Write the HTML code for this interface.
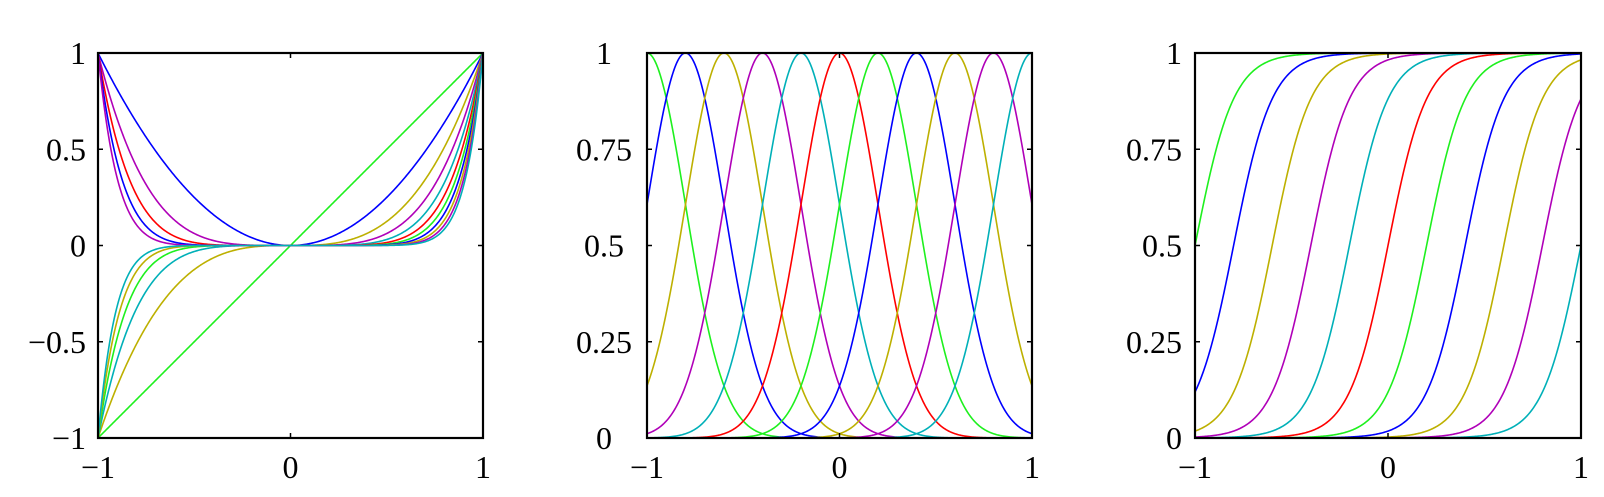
<!DOCTYPE html>
<html><head><meta charset="utf-8"><style>
html,body{margin:0;padding:0;background:#fff;}
svg{display:block;font-family:"Liberation Serif",serif;}
</style></head><body>
<svg id="chart" width="1604" height="497" viewBox="0 0 1604 497"></svg>
<script>
// Data
const colorCycle = ['#1ef01e','#0000ff','#bdb000','#b000b8','#00b0b8','#ff0000'];
const powers = [1,2,3,4,5,6,7,8,9,10,11];
const gaussCenters = [-1,-0.8,-0.6,-0.4,-0.2,0,0.2,0.4,0.6,0.8,1];
const gaussSigma = 0.2;
const sigmoidCenters = [-1,-0.8,-0.6,-0.4,-0.2,0,0.2,0.4,0.6,0.8,1];
const sigmoidSlope = 10;
const xTicks = [-1,0,1];
const xTickLabels = ['\u22121','0','1'];
const y1Ticks = [-1,-0.5,0,0.5,1];
const y1TickLabels = ['\u22121','\u22120.5','0','0.5','1'];
const y2Ticks = [0,0.25,0.5,0.75,1];
const y2TickLabels = ['0','0.25','0.5','0.75','1'];

const svg = document.getElementById('chart');
const NS = 'http://www.w3.org/2000/svg';
function mk(tag, attrs){const e=document.createElementNS(NS,tag);for(const k in attrs)e.setAttribute(k,attrs[k]);return e;}

const panels = [
  {name:'polynomial-panel', x0:98, x1:483, y0:53, y1:438, ymin:-1, ymax:1, yt:y1Ticks, yl:y1TickLabels, labAnchor:'end', labX:86,
   series: powers.map(p => ({name:'power-'+p, f:x=>Math.pow(x,p)}))},
  {name:'gaussian-panel', x0:647, x1:1032, y0:53, y1:438, ymin:0, ymax:1, yt:y2Ticks, yl:y2TickLabels, labAnchor:'middle', labX:604,
   series: gaussCenters.map(c => ({name:'gaussian-'+c, f:x=>Math.exp(-(x-c)*(x-c)/(2*gaussSigma*gaussSigma))}))},
  {name:'sigmoid-panel', x0:1195, x1:1581, y0:53, y1:438, ymin:0, ymax:1, yt:y2Ticks, yl:y2TickLabels, labAnchor:'end', labX:1182,
   series: sigmoidCenters.map(c => ({name:'sigmoid-'+c, f:x=>1/(1+Math.exp(-sigmoidSlope*(x-c)))}))}
];

panels.forEach(P => {
  const g = mk('g',{});
  
  
  svg.appendChild(g);
  const sx = v => P.x0 + (v+1)/2*(P.x1-P.x0);
  const sy = v => P.y1 - (v-P.ymin)/(P.ymax-P.ymin)*(P.y1-P.y0);
  P.series.forEach((s,i) => {
    let d='';
    for(let k=0;k<=400;k++){const x=-1+2*k/400;d+=(k?'L':'M')+sx(x).toFixed(2)+','+sy(s.f(x)).toFixed(2);}
    const path = mk('path',{d:d,fill:'none',stroke:colorCycle[i%colorCycle.length],'stroke-width':1.6});
    
    
    g.appendChild(path);
  });
  const box = mk('rect',{x:P.x0,y:P.y0,width:P.x1-P.x0,height:P.y1-P.y0,fill:'none',stroke:'#000','stroke-width':2.2});
  
  
  g.appendChild(box);
  xTicks.forEach((t,i) => {
    const X = sx(t);
    g.appendChild(mk('line',{x1:X,x2:X,y1:P.y1,y2:P.y1-5,stroke:'#000','stroke-width':1.5}));
    g.appendChild(mk('line',{x1:X,x2:X,y1:P.y0,y2:P.y0+5,stroke:'#000','stroke-width':1.5}));
    const tx = mk('text',{x:X,y:478,'text-anchor':'middle','font-size':32});
    tx.textContent = xTickLabels[i];
    
    
    g.appendChild(tx);
  });
  P.yt.forEach((t,i) => {
    const Y = sy(t);
    g.appendChild(mk('line',{x1:P.x0,x2:P.x0+5,y1:Y,y2:Y,stroke:'#000','stroke-width':1.5}));
    g.appendChild(mk('line',{x1:P.x1,x2:P.x1-5,y1:Y,y2:Y,stroke:'#000','stroke-width':1.5}));
    const ty = mk('text',{x:P.labX,y:Y+11,'text-anchor':P.labAnchor,'font-size':32});
    ty.textContent = P.yl[i];
    
    
    g.appendChild(ty);
  });
});
</script>
</body></html>
